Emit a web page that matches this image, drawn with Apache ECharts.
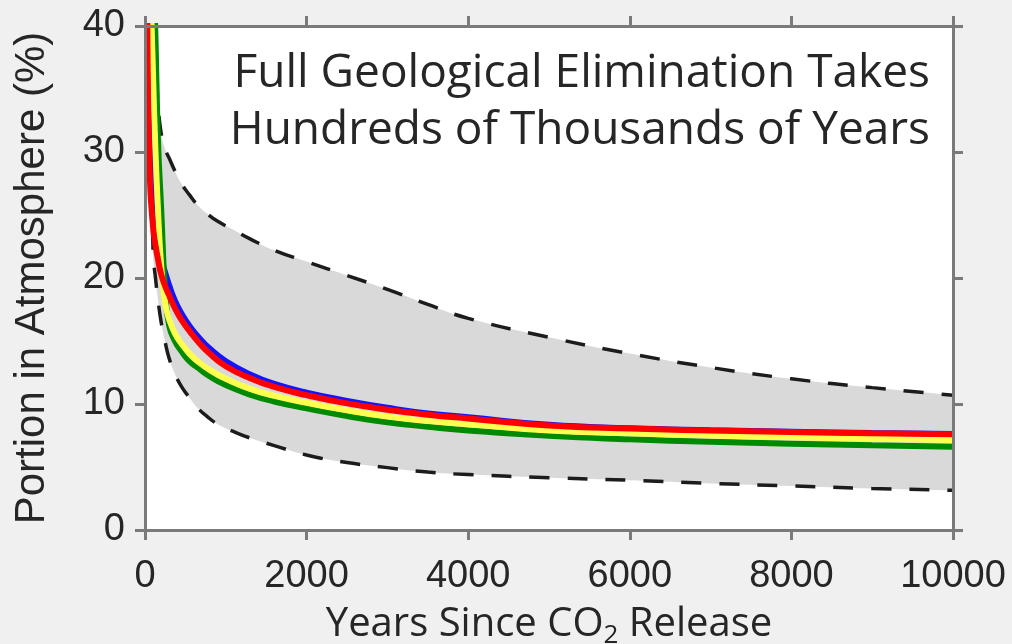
<!DOCTYPE html>
<html>
<head>
<meta charset="utf-8">
<script src="https://cdn.jsdelivr.net/npm/echarts@6/dist/echarts.min.js"></script>
<style>
html,body{margin:0;padding:0;background:#f0f0f0;}
#c{width:1012px;height:644px;}
</style>
</head>
<body>
<div id="c"></div>
<script>
// ---- Data ----
const X_TICKS = [0, 2000, 4000, 6000, 8000, 10000];
const Y_TICKS = [0, 10, 20, 30, 40];

// Years for the uncertainty band (upper / lower dashed bounds)
const T_BAND = [0, 60, 100, 130, 160, 200, 250, 300, 370, 450, 550, 650, 770, 900, 1100, 1300, 1600, 2000, 2500, 3000, 3500, 4000, 5000, 6000, 7000, 8000, 9000, 10000];
const UPPER  = [60, 48, 42, 37.5, 34, 31.5, 30.2, 29.5, 28.5, 27.5, 26.6, 25.8, 25.1, 24.5, 23.8, 23.1, 22.2, 21.3, 20.2, 19.1, 17.9, 16.8, 15.3, 14.0, 12.9, 12.0, 11.3, 10.7];
const LOWER  = [60, 40, 22, 20, 18.3, 16.5, 14.9, 13.6, 12.4, 11.4, 10.5, 9.7, 9.0, 8.4, 7.8, 7.3, 6.7, 5.95, 5.35, 4.95, 4.6, 4.4, 4.15, 3.95, 3.7, 3.5, 3.3, 3.15];

// Years for the model curves
const T_CURVE = [0, 30, 60, 100, 130, 160, 200, 250, 300, 370, 450, 550, 650, 800, 1000, 1300, 1600, 2000, 2500, 3000, 3500, 4000, 5000, 6000, 7000, 8000, 9000, 10000];
const BLUE   = [70, 44, 33, 27, 24.5, 23, 21.6, 20.4, 19.4, 18.2, 17.2, 16.2, 15.4, 14.4, 13.4, 12.35, 11.6, 10.9, 10.25, 9.7, 9.25, 8.95, 8.35, 8.08, 7.92, 7.8, 7.7, 7.62];
const GREEN  = [95, 75, 58, 46, 39, 31, 25.5, 18.8, 16.2, 15.0, 14.2, 13.4, 12.9, 12.2, 11.5, 10.75, 10.2, 9.65, 9.05, 8.55, 8.2, 7.9, 7.47, 7.2, 7.0, 6.85, 6.72, 6.6];
const YELLOW = [90, 60, 46, 36, 30, 25.5, 21, 18, 16.7, 15.6, 14.8, 14.0, 13.4, 12.7, 12.0, 11.2, 10.65, 10.1, 9.5, 9.0, 8.65, 8.4, 7.9, 7.68, 7.5, 7.36, 7.25, 7.15];
const RED    = [70, 39, 28, 24, 22.6, 21.5, 20.3, 19.35, 18.6, 17.6, 16.7, 15.8, 15.0, 14.0, 13.0, 12.05, 11.35, 10.7, 10.05, 9.55, 9.15, 8.85, 8.3, 8.05, 7.9, 7.78, 7.68, 7.6];

const TITLE_LINES = ['Full Geological Elimination Takes', 'Hundreds of Thousands of Years'];
const X_NAME = 'Years Since CO{sub|2} Release';
const Y_NAME = 'Portion in Atmosphere (%)';

// ---- Build ----
const pairs = (ts, vs) => ts.map((t, i) => [t, vs[i]]);

const axisGray = '#7a7a7a';
const txt = '#262626';
const xInterval = X_TICKS[1] - X_TICKS[0];
const yInterval = Y_TICKS[1] - Y_TICKS[0];
const SMOOTH = 0.5;

function curve(name, vs, color, z) {
  return {
    name, type: 'line', data: pairs(T_CURVE, vs), showSymbol: false,
    smooth: SMOOTH, clip: true, z,
    lineStyle: { color, width: 6 }, silent: true
  };
}
function dashed(name, vs) {
  return {
    name, type: 'line', data: pairs(T_BAND, vs), showSymbol: false,
    smooth: SMOOTH, clip: true, z: 3,
    lineStyle: { color: '#1c1c1c', width: 3.5, type: [20, 18] }, silent: true
  };
}
function filled(name, vs, color, z) {
  return {
    name, type: 'line', data: pairs(T_BAND, vs), showSymbol: false,
    smooth: SMOOTH, clip: true, z,
    lineStyle: { width: 0, opacity: 0 },
    areaStyle: { color, opacity: 1 }, silent: true
  };
}

const chart = echarts.init(document.getElementById('c'), null, { renderer: 'canvas' });
chart.setOption({
  backgroundColor: '#f0f0f0',
  animation: false,
  grid: {
    left: 145, right: 59, top: 26, bottom: 114, containLabel: false, outerBoundsMode: 'none',
    show: true, backgroundColor: '#ffffff', borderWidth: 0
  },
  xAxis: [
    {
      type: 'value', min: X_TICKS[0], max: X_TICKS[X_TICKS.length - 1], interval: xInterval,
      position: 'bottom', z: 10,
      axisLine: { show: true, onZero: false, lineStyle: { color: axisGray, width: 3 } },
      axisTick: { show: true, length: 10, lineStyle: { color: axisGray, width: 3 } },
      splitLine: { show: false },
      axisLabel: {
        margin: 28, fontSize: 38, fontFamily: 'Liberation Sans', color: txt,
        formatter: v => String(v)
      },
      name: X_NAME, nameLocation: 'middle', nameGap: 69,
      nameTextStyle: {
        fontSize: 40, fontFamily: 'Open Sans', color: txt, lineHeight: 48,
        rich: { sub: { fontSize: 26, fontFamily: 'Open Sans', color: txt, lineHeight: 20, verticalAlign: 'bottom' } }
      }
    },
    {
      type: 'value', min: X_TICKS[0], max: X_TICKS[X_TICKS.length - 1], interval: xInterval,
      position: 'top', z: 10,
      axisLine: { show: true, onZero: false, lineStyle: { color: axisGray, width: 3 } },
      axisTick: { show: true, length: 10, lineStyle: { color: axisGray, width: 3 } },
      axisLabel: { show: false }, splitLine: { show: false }
    }
  ],
  yAxis: [
    {
      type: 'value', min: Y_TICKS[0], max: Y_TICKS[Y_TICKS.length - 1], interval: yInterval,
      position: 'left', z: 10,
      axisLine: { show: true, onZero: false, lineStyle: { color: axisGray, width: 3 } },
      axisTick: { show: true, length: 10, lineStyle: { color: axisGray, width: 3 } },
      splitLine: { show: false },
      axisLabel: { margin: 20, fontSize: 38, fontFamily: 'Liberation Sans', color: txt },
      name: Y_NAME, nameLocation: 'middle', nameGap: 92, nameRotate: 90,
      nameTextStyle: { fontSize: 42, fontFamily: 'Liberation Sans', color: txt }
    },
    {
      type: 'value', min: Y_TICKS[0], max: Y_TICKS[Y_TICKS.length - 1], interval: yInterval,
      position: 'right', z: 10,
      axisLine: { show: true, onZero: false, lineStyle: { color: axisGray, width: 3 } },
      axisTick: { show: true, length: 10, lineStyle: { color: axisGray, width: 3 } },
      axisLabel: { show: false }, splitLine: { show: false }
    }
  ],
  graphic: [
    {
      type: 'text', x: 930, y: 45, z: 100,
      style: {
        text: TITLE_LINES.join('\n'), font: '46px "Open Sans"', fill: txt,
        align: 'right', verticalAlign: 'top', lineHeight: 57
      }
    }
  ],
  series: [
    filled('upperFill', UPPER, '#d9d9d9', 1),
    filled('lowerFill', LOWER, '#ffffff', 2),
    dashed('upper', UPPER),
    dashed('lower', LOWER),
    curve('blue', BLUE, '#1414ff', 4),
    curve('green', GREEN, '#008a00', 5),
    curve('yellow', YELLOW, '#ffff50', 6),
    curve('red', RED, '#ff0000', 7)
  ]
});
</script>
</body>
</html>
